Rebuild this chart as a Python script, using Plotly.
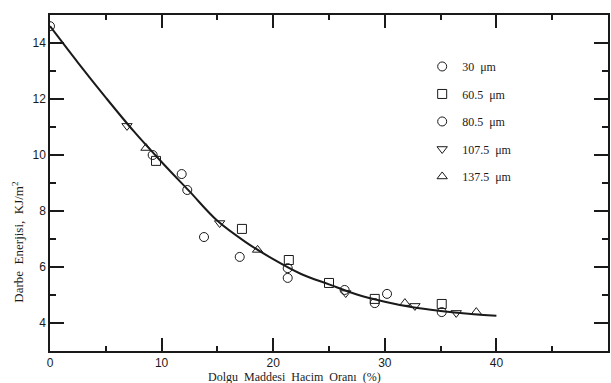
import plotly.graph_objects as go

# Fitted curve
curve_x = [0, 2.5, 5, 7.5, 10, 12.5, 15, 17.5, 20, 22.5, 25, 27.5, 30, 32.5, 35, 37.5, 40]
curve_y = [14.6, 13.3, 12.05, 10.85, 9.75, 8.7, 7.65, 6.9, 6.28, 5.75, 5.38, 5.02, 4.76, 4.56, 4.43, 4.33, 4.26]

# Measured points per particle size
s30_x = [0, 9.2, 12.3, 21.3, 29.1, 35.1]
s30_y = [14.6, 10.0, 8.75, 5.96, 4.71, 4.39]
s60_x = [9.5, 17.2, 21.4, 25.0, 29.1, 35.1]
s60_y = [9.79, 7.36, 6.25, 5.43, 4.86, 4.68]
s80_x = [11.8, 13.8, 17.0, 21.3, 26.4, 30.2]
s80_y = [9.32, 7.07, 6.36, 5.61, 5.18, 5.04]
s107_x = [6.9, 15.2, 26.5, 32.7, 36.4]
s107_y = [11.04, 7.57, 5.07, 4.61, 4.36]
s137_x = [8.6, 18.6, 31.8, 38.2]
s137_y = [10.25, 6.61, 4.71, 4.39]

series = [
    ("30  μm", s30_x, s30_y, "circle-open"),
    ("60.5  μm", s60_x, s60_y, "square-open"),
    ("80.5  μm", s80_x, s80_y, "circle-open"),
    ("107.5  μm", s107_x, s107_y, "triangle-down-open"),
    ("137.5  μm", s137_x, s137_y, "triangle-up-open"),
]

ink = "#1a1a1a"
fig = go.Figure()
fig.add_trace(go.Scatter(x=curve_x, y=curve_y, mode="lines", line=dict(color=ink, width=2, shape="spline"),
                         showlegend=False, hoverinfo="skip"))
for i, (name, xs, ys, sym) in enumerate(series):
    fig.add_trace(go.Scatter(x=xs, y=ys, mode="markers", name=name, legendgroup=f"g{i}",
                             marker=dict(symbol=sym, size=9, color=ink, line=dict(width=1, color=ink))))

fig.update_layout(
    width=611, height=383,
    margin=dict(l=50, r=1, t=15, b=32),
    paper_bgcolor="white", plot_bgcolor="white",
    font=dict(family="Liberation Sans", size=12, color=ink),
    legend=dict(x=0.667, y=0.89, xanchor="left", yanchor="top", bgcolor="rgba(0,0,0,0)",
                font=dict(family="Liberation Serif", size=12, color=ink),
                tracegroupgap=8.5, itemsizing="trace"),
    xaxis=dict(range=[0, 50], tick0=0, dtick=10, showline=True, linecolor=ink, linewidth=1.5,
               mirror="ticks", ticks="inside", ticklen=13, tickwidth=1.5, tickcolor=ink,
               showgrid=False, zeroline=False,
               minor=dict(dtick=5, ticks="inside", ticklen=5, tickcolor=ink, tickwidth=1.5, showgrid=False)),
    yaxis=dict(range=[3, 15], tickvals=[4, 6, 8, 10, 12, 14], showline=True, linecolor=ink, linewidth=1.5,
               mirror="ticks", ticks="inside", ticklen=14, tickwidth=1.5, tickcolor=ink,
               showgrid=False, zeroline=False,
               minor=dict(tickvals=[5, 7, 9, 11, 13, 15], ticks="inside", ticklen=6, tickcolor=ink, tickwidth=1.5, showgrid=False)),
    annotations=[
        dict(text="Dolgu  Maddesi  Hacim  Oranı  (%)", xref="paper", yref="paper", x=0.4375, y=-0.078,
             xanchor="center", yanchor="middle", showarrow=False,
             font=dict(family="Liberation Serif", size=12, color=ink)),
        dict(text="Darbe  Enerjisi,  KJ/m<sup>2</sup>", xref="paper", yref="paper", x=-0.057, y=0.326,
             xanchor="center", yanchor="middle", textangle=-90, showarrow=False,
             font=dict(family="Liberation Serif", size=13, color=ink)),
    ],
)

fig.write_html("out.html")
